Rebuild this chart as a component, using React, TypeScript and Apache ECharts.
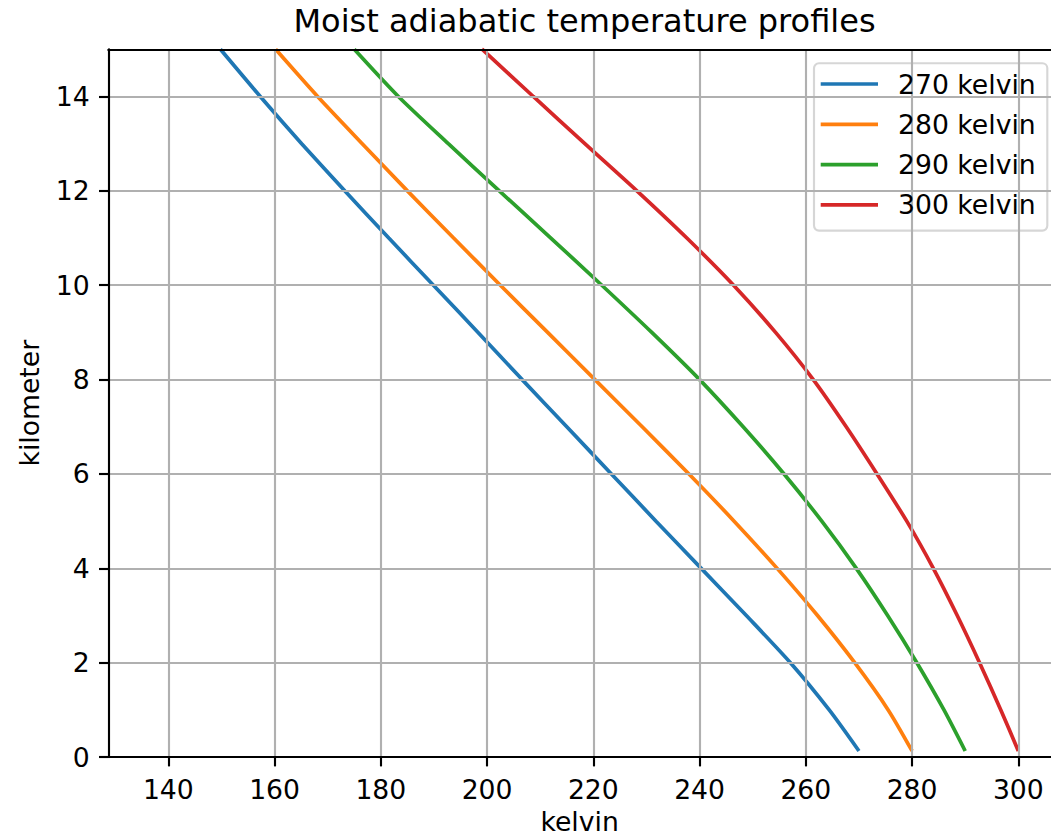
import React, { useEffect, useRef } from "react";
import * as echarts from "echarts";

// Heights (km) at which the profiles are read
const heightsKm = [0.13, 1, 2, 3, 4, 5, 6, 7, 8, 9, 10, 11, 12, 13, 14, 15];

// Temperatures (kelvin) of each moist adiabat at those heights
const t270 = [270.0, 264.4, 257.1, 248.8, 240.3, 231.8, 223.4, 215.0, 206.6, 198.3, 189.9, 181.5, 173.2, 165.1, 157.3, 149.8];
const t280 = [280.0, 275.5, 269.2, 262.2, 254.6, 246.5, 238.0, 229.2, 220.3, 211.4, 202.5, 193.7, 185.0, 176.5, 168.1, 160.2];
const t290 = [290.0, 286.0, 280.9, 275.4, 269.5, 263.0, 255.9, 248.2, 240.0, 231.0, 221.6, 212.0, 202.3, 192.7, 183.3, 175.0];
const t300 = [300.0, 296.7, 292.7, 288.5, 284.0, 279.0, 273.4, 267.6, 261.4, 254.3, 246.4, 237.6, 228.2, 218.4, 208.7, 199.1];

const seriesNames = ["270 kelvin", "280 kelvin", "290 kelvin", "300 kelvin"];
const seriesTemps = [t270, t280, t290, t300];
const colors = ["#1f77b4", "#ff7f0e", "#2ca02c", "#d62728"];

const xTicks = [140, 160, 180, 200, 220, 240, 260, 280, 300];
const yTicks = [0, 2, 4, 6, 8, 10, 12, 14];

const FONT = "DejaVu Sans";
const FS = 26.67;
const SPINE = 2.13;

export default function App() {
  const ref = useRef<HTMLDivElement>(null);

  useEffect(() => {
    const chart = echarts.init(ref.current as HTMLDivElement, null, { renderer: "svg" });
    const xMin = 128.7;
    const xMax = 306.15;
    chart.setOption({
      animation: false,
      backgroundColor: "#ffffff",
      textStyle: { fontFamily: FONT },
      title: {
        text: "Moist adiabatic temperature profiles",
        left: 584.5,
        top: 4.5,
        padding: 0,
        textAlign: "center",
        textStyle: { fontFamily: FONT, fontSize: 32, fontWeight: "normal", color: "#000" },
      },
      grid: {
        left: 108.3,
        top: 49.3,
        width: 942.7,
        height: 710.1,
        show: false,
      },
      legend: {
        orient: "vertical",
        left: 814,
        top: 63.3,
        icon: "rect",
        itemWidth: 57.3,
        itemHeight: 3.7,
        itemGap: 10.3,
        padding: [5.7, 11.6, 10.7, 6.7],
        backgroundColor: "rgba(255,255,255,0.8)",
        borderColor: "rgba(204,204,204,0.8)",
        borderWidth: 2.13,
        borderRadius: 5,
        selectedMode: false,
        textStyle: { fontFamily: FONT, fontSize: FS, color: "#000", lineHeight: 30, padding: [0, 0, 0, 15] },
        data: seriesNames,
      },
      xAxis: [
        {
          type: "value",
          min: xMin,
          max: xMax,
          name: "kelvin",
          nameLocation: "middle",
          nameGap: 50,
          nameTextStyle: { fontFamily: FONT, fontSize: FS, color: "#000" },
          axisLine: { show: true, onZero: false, lineStyle: { color: "#000", width: SPINE } },
          axisTick: { show: true, length: 9.3, lineStyle: { color: "#000", width: SPINE }, customValues: xTicks },
          axisLabel: { customValues: xTicks, fontFamily: FONT, fontSize: FS, color: "#000", margin: 19 },
          splitLine: { show: true, lineStyle: { color: "#b0b0b0", width: SPINE } },
          z: 4,
        },
        {
          type: "value",
          position: "top",
          min: xMin,
          max: xMax,
          axisLine: { show: true, onZero: false, lineStyle: { color: "#000", width: SPINE } },
          axisTick: { show: false },
          axisLabel: { show: false },
          splitLine: { show: false },
          z: 4,
        },
      ],
      yAxis: {
        type: "value",
        min: 0,
        max: 15,
        interval: 2,
        name: "kilometer",
        nameLocation: "middle",
        nameGap: 65,
        nameTextStyle: { fontFamily: FONT, fontSize: FS, color: "#000" },
        axisLine: { show: true, onZero: false, lineStyle: { color: "#000", width: SPINE } },
        axisTick: { show: true, length: 9.3, lineStyle: { color: "#000", width: SPINE }, customValues: yTicks },
        axisLabel: { customValues: yTicks, fontFamily: FONT, fontSize: FS, color: "#000", margin: 18.7 },
        splitLine: { show: true, lineStyle: { color: "#b0b0b0", width: SPINE } },
        z: 4,
      },
      series: seriesNames.map((name, i) => ({
        name,
        type: "line",
        xAxisIndex: 0,
        data: seriesTemps[i].map((t, j) => [t, heightsKm[j]]),
        showSymbol: false,
        symbol: "none",
        smooth: 0.25,
        clip: true,
        color: colors[i],
        lineStyle: { color: colors[i], width: 3.7 },
        z: 3,
      })),
    });
    return () => chart.dispose();
  }, []);

  return (
    <div
      ref={ref}
      style={{ position: "absolute", left: 0, top: 0, width: 1051, height: 840, background: "#fff" }}
    />
  );
}
